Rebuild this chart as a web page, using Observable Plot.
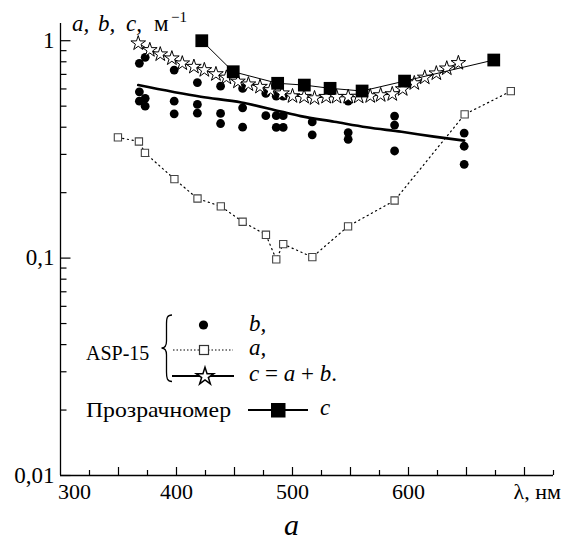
<!DOCTYPE html>
<html>
<head>
<meta charset="utf-8">
<script src="https://cdn.jsdelivr.net/npm/d3@7"></script>
<script src="https://cdn.jsdelivr.net/npm/@observablehq/plot@0.6"></script>
<style>
  body { margin: 0; background: #fff; }
  #wrap { width: 567px; }
  #cap { position: relative; width: 567px; height: 38px; font: italic 30px "Liberation Serif", serif; }
  #cap span { position: absolute; left: 284px; top: 2px; line-height: 30px; }
</style>
</head>
<body>
<div id="wrap"></div>
<div id="cap"><span>a</span></div>
<script>
// ---- data ----
// ASP-15 absorption a (open squares, dotted line)
const lambdaA = [349.5, 367.6, 372.8, 398.2, 418.1, 438.2, 457, 477.1, 486, 492, 517.1, 547.9, 588, 648.4, 688.2];
const absorptionA = [0.359, 0.344, 0.305, 0.231, 0.188, 0.173, 0.147, 0.128, 0.0986, 0.116, 0.101, 0.140, 0.184, 0.458, 0.586];

// ASP-15 scattering b (filled circles)
const lambdaB = [368, 368, 368, 373, 373, 373, 398, 398, 398, 418, 418, 418, 438, 438, 438, 457, 457, 457, 477, 477, 486, 486, 486, 492, 492, 492, 517, 517, 548, 548, 548, 588, 588, 588, 648, 648, 648];
const scatteringB = [0.787, 0.582, 0.527, 0.839, 0.543, 0.500, 0.733, 0.527, 0.461, 0.642, 0.509, 0.464, 0.618, 0.463, 0.416, 0.603, 0.491, 0.400, 0.572, 0.452, 0.556, 0.452, 0.399, 0.556, 0.452, 0.399, 0.423, 0.369, 0.527, 0.378, 0.352, 0.450, 0.409, 0.311, 0.376, 0.327, 0.270];

// fitted b curve (thick line)
const lambdaFit = [367, 421, 456, 490, 507, 536, 564, 594, 622, 648];
const scatteringFit = [0.625, 0.552, 0.520, 0.472, 0.450, 0.424, 0.400, 0.381, 0.362, 0.347];

// ASP-15 attenuation c = a + b (stars)
const lambdaC = [367, 377, 386, 396, 405, 415, 424, 434, 443, 453, 462, 472, 481, 491, 500, 510, 519, 529, 538, 548, 557, 567, 576, 586, 595, 605, 614, 624, 633, 643];
const attenuationC = [0.973, 0.906, 0.866, 0.830, 0.787, 0.759, 0.733, 0.702, 0.677, 0.649, 0.630, 0.614, 0.593, 0.573, 0.556, 0.552, 0.544, 0.552, 0.552, 0.552, 0.553, 0.556, 0.562, 0.568, 0.599, 0.638, 0.677, 0.708, 0.746, 0.790];

// Transparency meter c (filled squares)
const lambdaT = [421.8, 448.9, 487.2, 510.2, 532.4, 560, 596.6, 673.5];
const attenuationT = [1.0, 0.72, 0.637, 0.625, 0.604, 0.587, 0.652, 0.815];

// axes
const xDomain = [300, 725];
const yDomain = [0.01, 1.2];
const xLabelTicks = [400, 500, 600];
const xFirstTick = [300];
const xUnitTick = [700];
const xUnitLabel = "λ, нм";
const xTicks50 = [350, 400, 450, 500, 550, 600, 650, 700];
const xTicks25 = [325, 375, 425, 475, 525, 575, 625, 675, 725];
const yMajor = [0.01, 0.1, 1];
const yMajorLabels = ["0,01", "0,1", "1"];
const yMinor = [0.02, 0.03, 0.04, 0.05, 0.06, 0.07, 0.08, 0.09, 0.2, 0.3, 0.4, 0.5, 0.6, 0.7, 0.8, 0.9];

// ---- tables ----
const aData = lambdaA.map((x, i) => ({x, v: absorptionA[i]}));
const bData = lambdaB.map((x, i) => ({x, v: scatteringB[i]}));
const fitData = lambdaFit.map((x, i) => ({x, v: scatteringFit[i]}));
const cData = lambdaC.map((x, i) => ({x, v: attenuationC[i]}));
const tData = lambdaT.map((x, i) => ({x, v: attenuationT[i]}));

const serif = "'Liberation Serif', 'Times New Roman', serif";

// frame geometry (pixels) used to express inward tick lengths in data units
const W = 567, H = 508, mL = 60, mR = 14, mT = 23, mB = 33;
const nmPerPx = (xDomain[1] - xDomain[0]) / (W - mL - mR);
const decPerPx = Math.log10(yDomain[1] / yDomain[0]) / (H - mT - mB);
const xAt = px => xDomain[0] + px * nmPerPx;          // inward offset from y axis
const yAt = px => yDomain[0] * Math.pow(10, px * decPerPx); // inward offset from x axis

const plot = Plot.plot({
  width: W,
  height: H,
  marginLeft: mL,
  marginRight: mR,
  marginTop: mT,
  marginBottom: mB,
  x: {domain: xDomain, label: null},
  y: {type: "log", domain: yDomain, label: null},
  style: {fontFamily: serif, fontSize: "20px", color: "black", background: "white", overflow: "visible"},
  marks: [
    // axis lines
    Plot.ruleX([xDomain[0]], {stroke: "black", strokeWidth: 1.3}),
    Plot.ruleY([yDomain[0]], {stroke: "black", strokeWidth: 1.3}),
    // inward ticks
    Plot.ruleY(yMinor, {y: d => d, x1: xDomain[0], x2: xAt(6.5), stroke: "black", strokeWidth: 1.2}),
    Plot.ruleY(yMajor, {y: d => d, x1: xDomain[0], x2: xAt(10.5), stroke: "black", strokeWidth: 1.2}),
    Plot.ruleX(xTicks25, {x: d => d, y1: yDomain[0], y2: yAt(5), stroke: "black", strokeWidth: 1.2}),
    Plot.ruleX(xTicks50, {x: d => d, y1: yDomain[0], y2: yAt(8), stroke: "black", strokeWidth: 1.2}),
    // tick labels
    Plot.axisY({ticks: yMajor, tickSize: 0, tickPadding: 6, tickFormat: d => yMajorLabels[yMajor.indexOf(d)], label: null, fontSize: 23}),
    Plot.axisX({ticks: xLabelTicks, tickSize: 0, tickPadding: 8, tickFormat: d => String(d), label: null, fontSize: 22}),
    Plot.axisX({ticks: xFirstTick, tickSize: 0, tickPadding: 8, tickFormat: d => String(d), label: null, dx: 14, fontSize: 22}),
    Plot.axisX({ticks: xUnitTick, tickSize: 0, tickPadding: 8, tickFormat: () => xUnitLabel, textAnchor: "start", dx: -11, label: null, fontSize: 22}),
    // a: absorption
    Plot.line(aData, {x: "x", y: "v", stroke: "black", strokeWidth: 1.2, strokeDasharray: "1.2,3.6"}),
    Plot.dot(aData, {x: "x", y: "v", symbol: "square", r: 4.1, fill: "white", stroke: "#444", strokeWidth: 1.1}),
    // b: scattering
    Plot.dot(bData, {x: "x", y: "v", r: 4.4, fill: "black", stroke: "none"}),
    Plot.line(fitData, {x: "x", y: "v", stroke: "black", strokeWidth: 2.6, curve: "monotone-x"}),
    // c = a + b
    Plot.line(cData, {x: "x", y: "v", stroke: "black", strokeWidth: 1}),
    Plot.dot(cData, {x: "x", y: "v", symbol: "star", r: 4.6, fill: "white", stroke: "black", strokeWidth: 1}),
    // transparency meter
    Plot.line(tData, {x: "x", y: "v", stroke: "black", strokeWidth: 1}),
    Plot.dot(tData, {x: "x", y: "v", symbol: "square", r: 7.2, fill: "black", stroke: "none"})
  ]
});

document.getElementById("wrap").appendChild(plot);

// ---- annotations: axis title and legend ----
const svg = d3.select(plot);
const g = svg.append("g").attr("font-family", serif).attr("fill", "black").attr("text-anchor", "start");

// y-axis title "a, b, c, м^-1"
const yt = g.append("text").attr("y", 31).attr("font-size", 23);
yt.append("tspan").attr("x", 72).attr("font-style", "italic").text("a,");
yt.append("tspan").attr("x", 98).attr("font-style", "italic").text("b,");
yt.append("tspan").attr("x", 126).attr("font-style", "italic").text("c,");
yt.append("tspan").attr("x", 154).text("м");
yt.append("tspan").attr("x", 171).attr("dy", -9).attr("font-size", 15).text("−1");

// legend
g.append("text").attr("x", 86).attr("y", 360).attr("font-size", 20).text("ASP-15");
g.append("path")
  .attr("d", "M172,315 C167,315 166.5,318 166.5,324 L166.5,341 C166.5,346 164.5,348 161.5,348 C164.5,348 166.5,350 166.5,355 L166.5,372 C166.5,378 167,381.5 172,381.5")
  .attr("fill", "none").attr("stroke", "black").attr("stroke-width", 1.3);

// row b
g.append("circle").attr("cx", 203.5).attr("cy", 325).attr("r", 4.6).attr("fill", "black");
g.append("text").attr("x", 249).attr("y", 331).attr("font-size", 23).attr("font-style", "italic").text("b,");

// row a
g.append("line").attr("x1", 173).attr("x2", 233).attr("y1", 350).attr("y2", 350)
  .attr("stroke", "black").attr("stroke-width", 1).attr("stroke-dasharray", "1.5,2");
g.append("rect").attr("x", 199.5).attr("y", 345.5).attr("width", 9).attr("height", 9)
  .attr("fill", "white").attr("stroke", "#333").attr("stroke-width", 1.2);
g.append("text").attr("x", 249).attr("y", 355).attr("font-size", 23).attr("font-style", "italic").text("a,");

// row c = a + b
g.append("line").attr("x1", 172).attr("x2", 234).attr("y1", 376).attr("y2", 376)
  .attr("stroke", "black").attr("stroke-width", 2.2);
g.append("path").attr("transform", "translate(205,376.5)")
  .attr("d", d3.symbol(d3.symbolStar, 95)())
  .attr("fill", "white").attr("stroke", "black").attr("stroke-width", 1.5);
const ct = g.append("text").attr("x", 249).attr("y", 381).attr("font-size", 23);
ct.append("tspan").attr("font-style", "italic").text("c");
ct.append("tspan").text(" = ");
ct.append("tspan").attr("font-style", "italic").text("a");
ct.append("tspan").text(" + ");
ct.append("tspan").attr("font-style", "italic").text("b");
ct.append("tspan").text(".");

// row transparency meter
g.append("text").attr("x", 86).attr("y", 417).attr("font-size", 21)
  .attr("textLength", 145).attr("lengthAdjust", "spacingAndGlyphs").text("Прозрачномер");
g.append("line").attr("x1", 248).attr("x2", 308).attr("y1", 410).attr("y2", 410)
  .attr("stroke", "black").attr("stroke-width", 2);
g.append("rect").attr("x", 271).attr("y", 403).attr("width", 14.5).attr("height", 14.5).attr("fill", "black");
g.append("text").attr("x", 320).attr("y", 415).attr("font-size", 23).attr("font-style", "italic").text("c");
</script>
</body>
</html>
